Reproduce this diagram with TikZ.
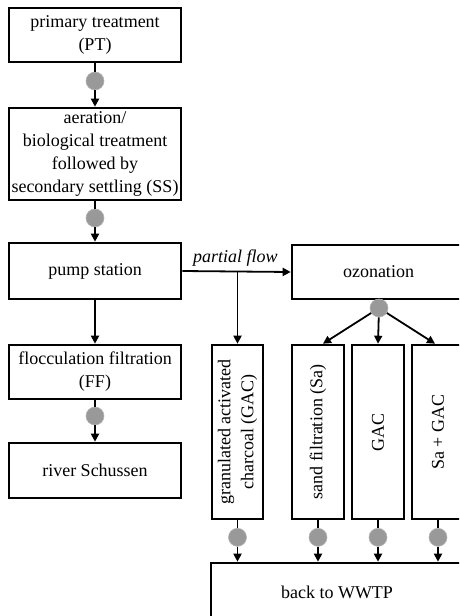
\documentclass[tikz,border=0pt]{standalone}
\usepackage{fontspec}
\setmainfont{Liberation Serif}
\usetikzlibrary{arrows.meta}
\begin{document}
\begin{tikzpicture}[x=1pt,y=-1pt,
  box/.style={draw, line width=2.6pt, inner sep=0pt, align=center,
    font=\fontsize{18}{23}\selectfont},
  lbl/.style={inner sep=0pt, align=center, font=\fontsize{18}{23}\selectfont},
  dot/.style={circle, fill=black!40, draw=black!30, line width=0.6pt, minimum size=18pt, inner sep=0pt},
  ln/.style={line width=1.8pt},
  arr/.style={line width=1.8pt, -{Triangle[length=8pt,width=8pt]}}]
\useasboundingbox (0,0) rectangle (459,616);
\clip (0,0) rectangle (459,616);
% left column
\node[box, minimum width=172pt, minimum height=54pt] (pt) at (95,35) {primary treatment\\(PT)};
\node[dot] (c1) at (95,81) {};
\node[box, minimum width=172pt, minimum height=92pt] (aer) at (95,154) {aeration/\\biological treatment\\followed by\\secondary settling (SS)};
\node[dot] (c2) at (95,218) {};
\node[box, minimum width=172pt, minimum height=56pt] (pump) at (95,271) {pump station};
\node[box, minimum width=172pt, minimum height=54pt] (ff) at (95,372) {flocculation filtration\\(FF)};
\node[dot] (c3) at (95,416) {};
\node[box, minimum width=172pt, minimum height=55pt] (river) at (95,470.5) {river Schussen};
\draw[ln] (pt.south) -- (c1);
\draw[arr] (c1) -- (aer.north);
\draw[ln] (aer.south) -- (c2);
\draw[arr] (c2) -- (pump.north);
\draw[arr] (pump.south) -- (ff.north);
\draw[ln] (ff.south) -- (c3);
\draw[arr] (c3) -- (river.north);
% right part
\node[box, minimum width=173pt, minimum height=54pt] (oz) at (378.5,272) {ozonation};
\draw[arr] (pump.east) -- node[lbl, above=4pt, pos=0.49, font=\fontsize{18}{23}\selectfont\itshape] (pf) {partial flow} (oz.west);
\coordinate (br) at (237.5,272);
\node[box, minimum width=51pt, minimum height=174pt] (gac1) at (237.5,432) {};
\node[lbl, rotate=90] (gac1t) at (gac1.center) {granulated activated\\charcoal (GAC)};
\node[box, minimum width=52pt, minimum height=174pt] (sa) at (318,432) {};
\node[lbl, rotate=90] (sat) at (sa.center) {sand filtration (Sa)};
\node[box, minimum width=52pt, minimum height=174pt] (gac2) at (378,432) {};
\node[lbl, rotate=90] (gac2t) at (gac2.center) {GAC};
\node[box, minimum width=52pt, minimum height=174pt] (sagac) at (438,432) {};
\node[lbl, rotate=90] (sagact) at (sagac.center) {Sa + GAC};
\draw[arr] (br) -- (gac1.north);
\node[dot] (co) at (379,308) {};
\draw[arr] (co) -- ([xshift=5pt]sa.north);
\draw[arr] (co) -- (gac2.north);
\draw[arr] (co) -- ([xshift=-3pt]sagac.north);
\node[box, minimum width=254pt, minimum height=70pt] (wwtp) at (338,598) {};
\node[lbl] (wwtpt) at (337,592) {back to WWTP};
\foreach \b/\n in {gac1/d1, sa/d2, gac2/d3, sagac/d4}{
  \node[dot] (\n) at ([yshift=-17pt]\b.south) {};
  \draw[ln] (\b.south) -- (\n);
  \draw[arr] (\n) -- (\n |- wwtp.north);
}
\end{tikzpicture}
\end{document}
